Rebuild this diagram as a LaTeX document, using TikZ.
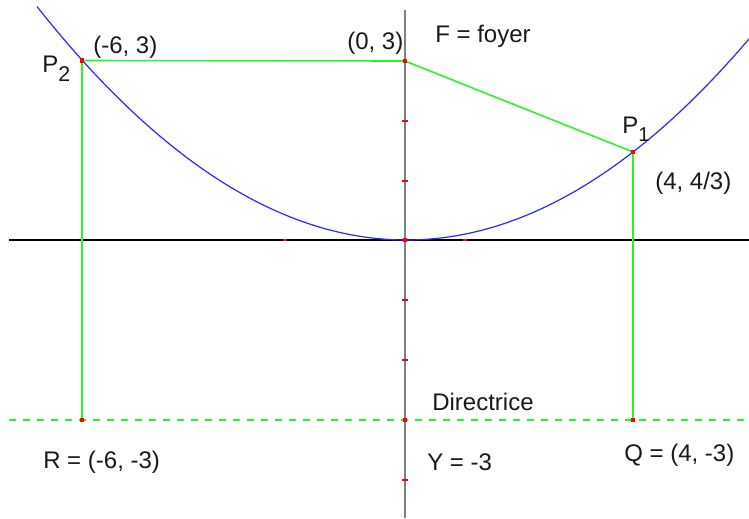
\documentclass[tikz,border=0pt]{standalone}
\usepackage{fontspec}
\setmainfont{Liberation Sans}
\definecolor{lgreen}{RGB}{40,245,40}
\definecolor{pblue}{RGB}{40,40,255}
\definecolor{pred}{RGB}{255,0,0}
\definecolor{axgray}{RGB}{128,128,128}
\definecolor{txt}{RGB}{25,25,25}
\begin{document}
\begin{tikzpicture}[x=0.75pt,y=-0.75pt,
  lbl/.style={inner sep=0pt,anchor=base west,text=txt,font=\fontsize{18}{21}\selectfont},
  gline/.style={draw=lgreen,line width=1.2pt},
  dline/.style={draw=lgreen,line width=1.5pt,dash pattern=on 5.5pt off 5pt},
  parab/.style={draw=pblue,line width=0.9pt},
  yaxis/.style={draw=axgray,line width=1.5pt},
  xaxis/.style={draw=black,line width=1.1pt},
  pt/.style={fill=pred,draw=none,minimum size=3.2pt,inner sep=0pt,rectangle},
  tick/.style={fill=pred,draw=none,minimum width=3.8pt,minimum height=1.5pt,inner sep=0pt,rectangle}]
\useasboundingbox (0,0) rectangle (749,518);
% named points
\coordinate (O) at (405,240);
\coordinate (F) at (405,61);
\coordinate (P1) at (633,152);
\coordinate (P2) at (82,60.5);
\coordinate (Q) at (633,420);
\coordinate (R) at (82,420);
\coordinate (D) at (405,420);
\coordinate (xl) at (9,240);
\coordinate (xr) at (749,240);
\coordinate (yt) at (405,10);
\coordinate (yb) at (405,518);
\coordinate (dl) at (9,420);
\coordinate (dr) at (749,420);
% axes
\draw[xaxis] (xl) -- (xr);
\draw[yaxis] (yt) -- (yb);
% directrix
\draw[dline] (dl) -- (dr);
% parabola
\draw[parab] plot[domain=-368:344,samples=160,smooth] ({405+\x},{240-(17.119*(\x/100)*(\x/100)-0.00434*\x)});
% green segments
\draw[gline] (P2) -- (F) -- (P1) -- (Q);
\draw[gline] (P2) -- (R);
% ticks
\foreach \yy [count=\i] in {121,181,300,360,480} \node[tick] (ty\i) at (405,\yy) {};
\node[tick,minimum width=2.5pt] (tx1) at (285,240) {};
\node[tick,minimum width=2.5pt] (tx2) at (465,240) {};
% red points
\node[pt] (nP2) at (P2) {};
\node[pt] (nF) at (F) {};
\node[pt] (nP1) at (P1) {};
\node[pt] (nQ) at (Q) {};
\node[pt] (nR) at (R) {};
\node[pt] (nD) at (D) {};
\node[pt] (nO) at (O) {};
% labels
\node[lbl] (l62) at (93,53) {(-6, 3)};
\node[lbl] (lP2) at (42,72) {P\raisebox{-7pt}{\fontsize{16}{16}\selectfont 2}};
\node[lbl] (l03) at (347,49) {(0, 3)};
\node[lbl] (lF) at (435,42) {F = foyer};
\node[lbl] (lP1) at (622,133) {P\raisebox{-6pt}{\fontsize{15}{15}\selectfont 1}};
\node[lbl] (l443) at (655,189) {(4, 4/3)};
\node[lbl] (lDir) at (432,410) {Directrice};
\node[lbl] (lR) at (43,468) {R = (-6, -3)};
\node[lbl] (lY) at (427,470) {Y = -3};
\node[lbl] (lQ) at (624,461) {Q = (4, -3)};
\end{tikzpicture}
\end{document}
